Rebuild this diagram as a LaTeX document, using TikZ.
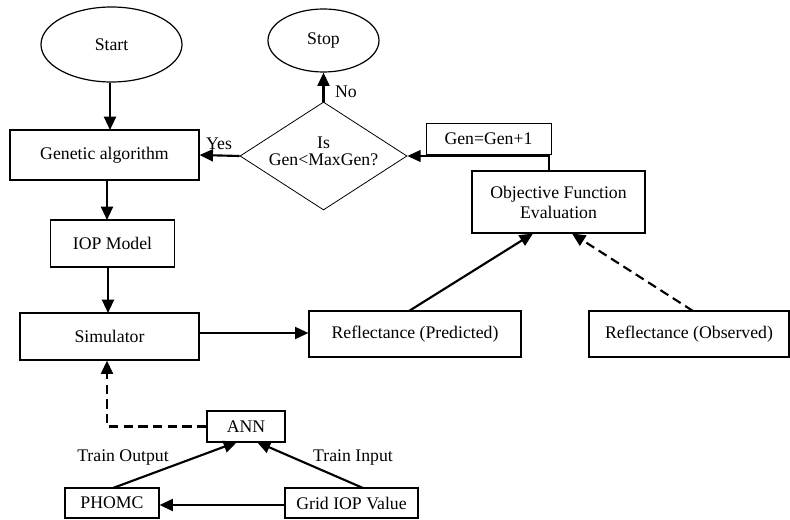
\documentclass[tikz,border=0pt]{standalone}
\usepackage{fontspec}
\setmainfont{Liberation Serif}
\usetikzlibrary{shapes.geometric,arrows.meta}
\begin{document}
\begin{tikzpicture}[x=0.75pt,y=-0.75pt,
  font=\fontsize{13.3}{15}\selectfont,
  box/.style={draw,line width=0.9pt,inner sep=0pt,align=center},
  oval/.style={draw,ellipse,line width=0.9pt,inner sep=0pt},
  tip/.style={-{Triangle[length=10pt,width=9pt]}},
  arr/.style={line width=1.6pt,tip},
  darr/.style={arr,dash pattern=on 7pt off 4pt},
  lbl/.style={inner sep=1pt}]
\useasboundingbox (0,0) rectangle (790,520);
\node[oval,minimum width=141*0.75pt,minimum height=75*0.75pt] (start) at (111.5,44.5) {Start};
\node[oval,minimum width=111*0.75pt,minimum height=63*0.75pt] (stop) at (323.5,40.5) {Stop};
\node[box,minimum width=189*0.75pt,minimum height=50*0.75pt] (ga) at (104.5,155) {Genetic algorithm};
\node[draw,diamond,line width=0.6pt,inner sep=0pt,minimum width=167*0.75pt,minimum height=108*0.75pt] (dec) at (323.5,156) {};
\node[lbl,align=center] (dect) at (323.5,151) {Is\\[-2pt]Gen<MaxGen?};
\node[box,minimum width=124*0.75pt,minimum height=47*0.75pt] (iop) at (112.5,243.5) {IOP Model};
\node[box,minimum width=179*0.75pt,minimum height=47*0.75pt] (sim) at (109.5,336.5) {Simulator};
\node[box,minimum width=212*0.75pt,minimum height=46*0.75pt] (rp) at (415,334) {Reflectance (Predicted)};
\node[box,minimum width=200*0.75pt,minimum height=46*0.75pt] (ro) at (689,334) {Reflectance (Observed)};
\node[box,line width=1.3pt,minimum width=173*0.75pt,minimum height=62*0.75pt] (ofe) at (558.5,202) {Objective Function\\Evaluation};
\node[box,line width=0.6pt,minimum width=125*0.75pt,minimum height=31*0.75pt] (gen) at (488.5,138.5) {Gen=Gen+1};
\node[box,minimum width=78*0.75pt,minimum height=31*0.75pt] (ann) at (246,426.5) {ANN};
\node[box,minimum width=94*0.75pt,minimum height=30*0.75pt] (phomc) at (112,503) {PHOMC};
\node[box,minimum width=133*0.75pt,minimum height=30*0.75pt] (grid) at (351.5,503) {Grid IOP Value};
\node[lbl] (tout) at (123,458) {Train Output};
\node[lbl] (tin) at (353,458) {Train Input};
\node[lbl] (yes) at (219,144) {Yes};
\node[lbl] (no) at (346,92) {No};
\coordinate (ofetop) at (549,171);
% connectors
\draw[arr] (start.south-|110,0) -- (110,130);
\draw[arr] (ga.south-|107,0) -- (107,220);
\draw[arr] (iop.south-|108,0) -- (108,313);
\draw[arr] (dec.west) -- (ga.east);
\draw[arr] (dec.north) -- (stop.south);
\draw[line width=0.9pt,tip] (ofetop) |- (dec.east);
\draw[line width=1.3pt,tip] (sim.east|-0,333) -- (rp.west|-0,333);
\draw[arr] (409,311) -- (533,233.5);
\draw[darr] (693,311) -- (572,233.5);
\draw[darr] (ann.west) -| (sim.south-|107,0);
\draw[arr] (grid.west|-0,505) -- (phomc.east|-0,505);
\draw[arr] (113,488) -- (237,442);
\draw[arr] (363,488) -- (257,442);
\end{tikzpicture}
\end{document}
